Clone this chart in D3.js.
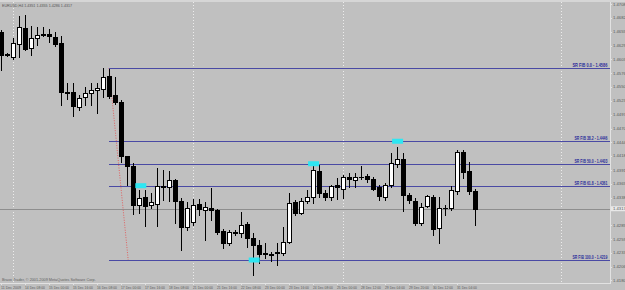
<!DOCTYPE html>
<html><head><meta charset="utf-8">
<script src="https://cdnjs.cloudflare.com/ajax/libs/d3/7.8.5/d3.min.js"></script>
<style>html,body{margin:0;padding:0;background:#c0c0c0;overflow:hidden}svg{display:block}</style>
</head><body><svg id="c" width="625" height="290"></svg>
<script>
const title = "EURUSD,H4 1.4351 1.4355 1.4286 1.4317";
const copyright = "Bravo Trader, \u00a9 2001-2009 MetaQuotes Software Corp.";
const opens  = [1.4655,1.4613,1.4607,1.4632,1.4662,1.4624,1.4643,1.4651,1.4651,1.4645,
                1.4634,1.4540,1.4540,1.4512,1.4531,1.4538,1.4544,1.4546,1.4571,1.4534,
                1.4521,1.4418,1.4399,1.4324,1.4339,1.4324,1.4326,1.4361,1.4359,1.4372,
                1.4332,1.4282,1.4292,1.4326,1.4315,1.4319,1.4315,1.4275,1.4252,1.4271,
                1.4271,1.4288,1.4261,1.4248,1.4231,1.4229,1.4233,1.4233,1.4254,1.4330,
                1.4309,1.4332,1.4339,1.4389,1.4347,1.4339,1.4362,1.4355,1.4378,1.4372,
                1.4378,1.4380,1.4374,1.4359,1.4339,1.4362,1.4403,1.4412,1.4343,1.4332,
                1.4290,1.4322,1.4339,1.4280,1.4319,1.4319,1.4351,1.4426,1.4389,1.4351];
const highs  = [1.4659,1.4615,1.4643,1.4685,1.4687,1.4666,1.4664,1.4664,1.4661,1.4655,
                1.4647,1.4557,1.4557,1.4534,1.4550,1.4557,1.4557,1.4586,1.4584,1.4569,
                1.4525,1.4418,1.4405,1.4353,1.4353,1.4347,1.4395,1.4391,1.4389,1.4374,
                1.4338,1.4330,1.4336,1.4336,1.4330,1.4357,1.4317,1.4278,1.4277,1.4277,
                1.4311,1.4292,1.4271,1.4257,1.4252,1.4234,1.4252,1.4282,1.4347,1.4334,
                1.4338,1.4353,1.4405,1.4401,1.4353,1.4362,1.4376,1.4382,1.4385,1.4385,
                1.4399,1.4383,1.4378,1.4362,1.4366,1.4424,1.4435,1.4424,1.4347,1.4338,
                1.4328,1.4343,1.4343,1.4339,1.4324,1.4361,1.4429,1.4429,1.4406,1.4355];
const lows   = [1.4582,1.4609,1.4603,1.4607,1.4620,1.4611,1.4630,1.4647,1.4636,1.4628,
                1.4515,1.4527,1.4494,1.4506,1.4515,1.4515,1.4500,1.4531,1.4529,1.4517,
                1.4406,1.4362,1.4307,1.4309,1.4284,1.4319,1.4284,1.4334,1.4332,1.4290,
                1.4238,1.4277,1.4286,1.4305,1.4257,1.4296,1.4269,1.4242,1.4248,1.4267,
                1.4263,1.4244,1.4191,1.4213,1.4223,1.4217,1.4210,1.4229,1.4252,1.4305,
                1.4307,1.4328,1.4328,1.4339,1.4334,1.4334,1.4336,1.4338,1.4359,1.4359,
                1.4374,1.4368,1.4353,1.4334,1.4334,1.4359,1.4397,1.4313,1.4328,1.4286,
                1.4286,1.4320,1.4267,1.4252,1.4305,1.4315,1.4345,1.4376,1.4345,1.4286];
const closes = [1.4611,1.4611,1.4634,1.4664,1.4622,1.4643,1.4649,1.4649,1.4647,1.4632,
                1.4540,1.4538,1.4513,1.4529,1.4538,1.4544,1.4548,1.4569,1.4533,1.4521,
                1.4418,1.4399,1.4324,1.4338,1.4322,1.4330,1.4361,1.4359,1.4372,1.4332,
                1.4282,1.4319,1.4324,1.4317,1.4320,1.4315,1.4273,1.4252,1.4273,1.4272,
                1.4286,1.4261,1.4248,1.4231,1.4232,1.4230,1.4234,1.4254,1.4328,1.4309,
                1.4332,1.4339,1.4391,1.4347,1.4339,1.4361,1.4359,1.4378,1.4374,1.4378,
                1.4377,1.4374,1.4355,1.4341,1.4362,1.4405,1.4412,1.4343,1.4334,1.4290,
                1.4320,1.4341,1.4278,1.4319,1.4318,1.4353,1.4426,1.4387,1.4351,1.4317];
const timeTickIdx = [0,4,8,12,16,20,24,28,32,36,40,44,48,52,56,60,64,68,72,76];
const timeTickText = ["11 Dec 2009","14 Dec 08:00","15 Dec 00:00","15 Dec 16:00","16 Dec 08:00",
  "17 Dec 00:00","17 Dec 16:00","18 Dec 08:00","21 Dec 00:00","21 Dec 16:00","22 Dec 08:00",
  "23 Dec 00:00","23 Dec 16:00","24 Dec 08:00","25 Dec 00:00","28 Dec 12:00","29 Dec 04:00",
  "29 Dec 20:00","30 Dec 12:00","31 Dec 04:00"];
const priceTicks = [1.4708,1.4682,1.4655,1.4629,1.4603,1.4576,1.4550,1.4523,1.4497,1.4470,
                    1.4444,1.4418,1.4391,1.4365,1.4338,1.4285,1.4259,1.4233,1.4206,1.4180];
const currentPrice = 1.4317;
const separators = [2, 32, 57, 93.3];
const fibLevels = ["0.0","38.2","50.0","61.8","100.0"];
const fibPrices = [1.4586,1.4446,1.4403,1.4361,1.4219];
const fibFrom = [18, 1.4586], fibTo = [21.2, 1.4219];
const markerIdx = [23.3, 42.2, 52.1, 66.1];
const markerPrice = [1.4361, 1.4219, 1.4403, 1.4446];

const W = 625, H = 290, axisX = 610, axisY = 283;
const x = d3.scaleLinear().domain([0, 100]).range([1, 601]);
const y = d3.scaleLinear().domain([1.4219, 1.4586]).range([260, 68]);
const svg = d3.select("#c");
const font = "'Liberation Sans', Arial, sans-serif";

// text squeezed horizontally to a target width, anchored at (ax, ay)
function fitText(parent, str, ax, ay, width, opts) {
  const g = parent.append("g");
  const t = g.append("text").attr("x", 0).attr("y", 0)
    .attr("font-family", font).attr("font-size", opts.size)
    .attr("font-weight", opts.weight || "normal").attr("fill", opts.fill).text(str);
  const nat = t.node().getComputedTextLength();
  const sx = width / nat;
  const left = opts.anchor === "end" ? ax - width : ax;
  g.attr("transform", `translate(${left},${ay}) scale(${sx},1)`);
  return g;
}

svg.append("rect").attr("width", W).attr("height", H).attr("fill", "#c0c0c0");
svg.append("rect").attr("width", W).attr("height", 2).attr("fill", "#d6d6d6");

// period separators
svg.selectAll("line.sep").data(separators).join("line")
  .attr("x1", d => Math.round(x(d)) + 0.5).attr("x2", d => Math.round(x(d)) + 0.5)
  .attr("y1", 2).attr("y2", axisY)
  .attr("stroke", "#ececec").attr("stroke-dasharray", "1,2");

// current price line
svg.append("line").attr("x1", 0).attr("x2", axisX)
  .attr("y1", Math.round(y(currentPrice)) + 0.5).attr("y2", Math.round(y(currentPrice)) + 0.5)
  .attr("stroke", "#8e8e8e");

// fib base line (dotted red)
svg.append("line")
  .attr("x1", x(fibFrom[0])).attr("y1", y(fibFrom[1]))
  .attr("x2", x(fibTo[0])).attr("y2", y(fibTo[1]))
  .attr("stroke", "#e06060").attr("stroke-dasharray", "1,1.5");

// fib levels
const fg = svg.append("g");
fibPrices.forEach((p, i) => {
  const yy = Math.round(y(p)) + 0.5;
  fg.append("line").attr("x1", x(fibFrom[0])).attr("x2", axisX)
    .attr("y1", yy).attr("y2", yy).attr("stroke", "#4a4aa4").attr("stroke-width", 1);
  const long = fibLevels[i].length > 4 || i === 0;
  fitText(fg, "SR FIB " + fibLevels[i] + " - " + p.toFixed(4), axisX - 2.5, yy - 1.3,
    long ? 35 : 33, {size: 4.6, weight: "bold", fill: "#2c2c9a", anchor: "end"});
});

// candles
const cg = svg.append("g");
opens.forEach((o, i) => {
  const cx = Math.round(x(i));
  const c = closes[i];
  cg.append("line").attr("x1", cx + 0.5).attr("x2", cx + 0.5)
    .attr("y1", Math.round(y(highs[i]))).attr("y2", Math.round(y(lows[i])) + 1)
    .attr("stroke", "#000");
  const top = Math.round(y(Math.max(o, c))), bot = Math.round(y(Math.min(o, c)));
  const h = Math.max(bot - top, 0);
  if (h === 0) {
    cg.append("line").attr("x1", cx - 2).attr("x2", cx + 3)
      .attr("y1", top + 0.5).attr("y2", top + 0.5).attr("stroke", "#000");
  } else {
    cg.append("rect").attr("x", cx - 1.5).attr("y", top + 0.5)
      .attr("width", 4).attr("height", h)
      .attr("fill", c >= o ? "#fff" : "#000").attr("stroke", "#000");
  }
});

// cyan markers
svg.selectAll("rect.mk").data(markerIdx).join("rect")
  .attr("x", d => x(d) - 5.5).attr("y", (d, i) => y(markerPrice[i]) - 2.5)
  .attr("width", 11).attr("height", 5).attr("fill", "#2ee6f2");

// axes frame
svg.append("line").attr("x1", axisX + 0.5).attr("x2", axisX + 0.5).attr("y1", 2).attr("y2", axisY)
  .attr("stroke", "#e2e2e2");
svg.append("line").attr("x1", 0).attr("x2", axisX + 1).attr("y1", axisY + 0.5).attr("y2", axisY + 0.5)
  .attr("stroke", "#e2e2e2");

// price axis labels
const pa = svg.append("g");
priceTicks.forEach(p => {
  pa.append("line").attr("x1", axisX).attr("x2", axisX + 2)
    .attr("y1", Math.round(y(p)) + 0.5).attr("y2", Math.round(y(p)) + 0.5).attr("stroke", "#e2e2e2");
  pa.append("text").attr("x", axisX + 3).attr("y", y(p) + 1.5)
    .attr("font-family", font).attr("font-size", 4.2).attr("fill", "#5a5a5a")
    .text(p.toFixed(4));
});
pa.append("rect").attr("x", axisX + 1).attr("y", y(currentPrice) - 2.5).attr("width", 14).attr("height", 5)
  .attr("fill", "#e8e8e8");
pa.append("text").attr("x", axisX + 3).attr("y", y(currentPrice) + 1.5)
  .attr("font-family", font).attr("font-size", 4.2).attr("fill", "#555")
  .text(currentPrice.toFixed(4));

// time axis labels
const ta = svg.append("g");
timeTickIdx.forEach((t, i) => {
  const tx = Math.round(x(t));
  ta.append("line").attr("x1", tx + 0.5).attr("x2", tx + 0.5).attr("y1", axisY).attr("y2", axisY + 2)
    .attr("stroke", "#e2e2e2");
  fitText(ta, timeTickText[i], tx, 289, 20, {size: 4.2, fill: "#5a5a5a"});
});

// title & copyright
fitText(svg, title, 2, 6.5, 70, {size: 4.2, fill: "#555"});
fitText(svg, copyright, 2, 281, 94, {size: 4, fill: "#606060"});
</script></body></html>
